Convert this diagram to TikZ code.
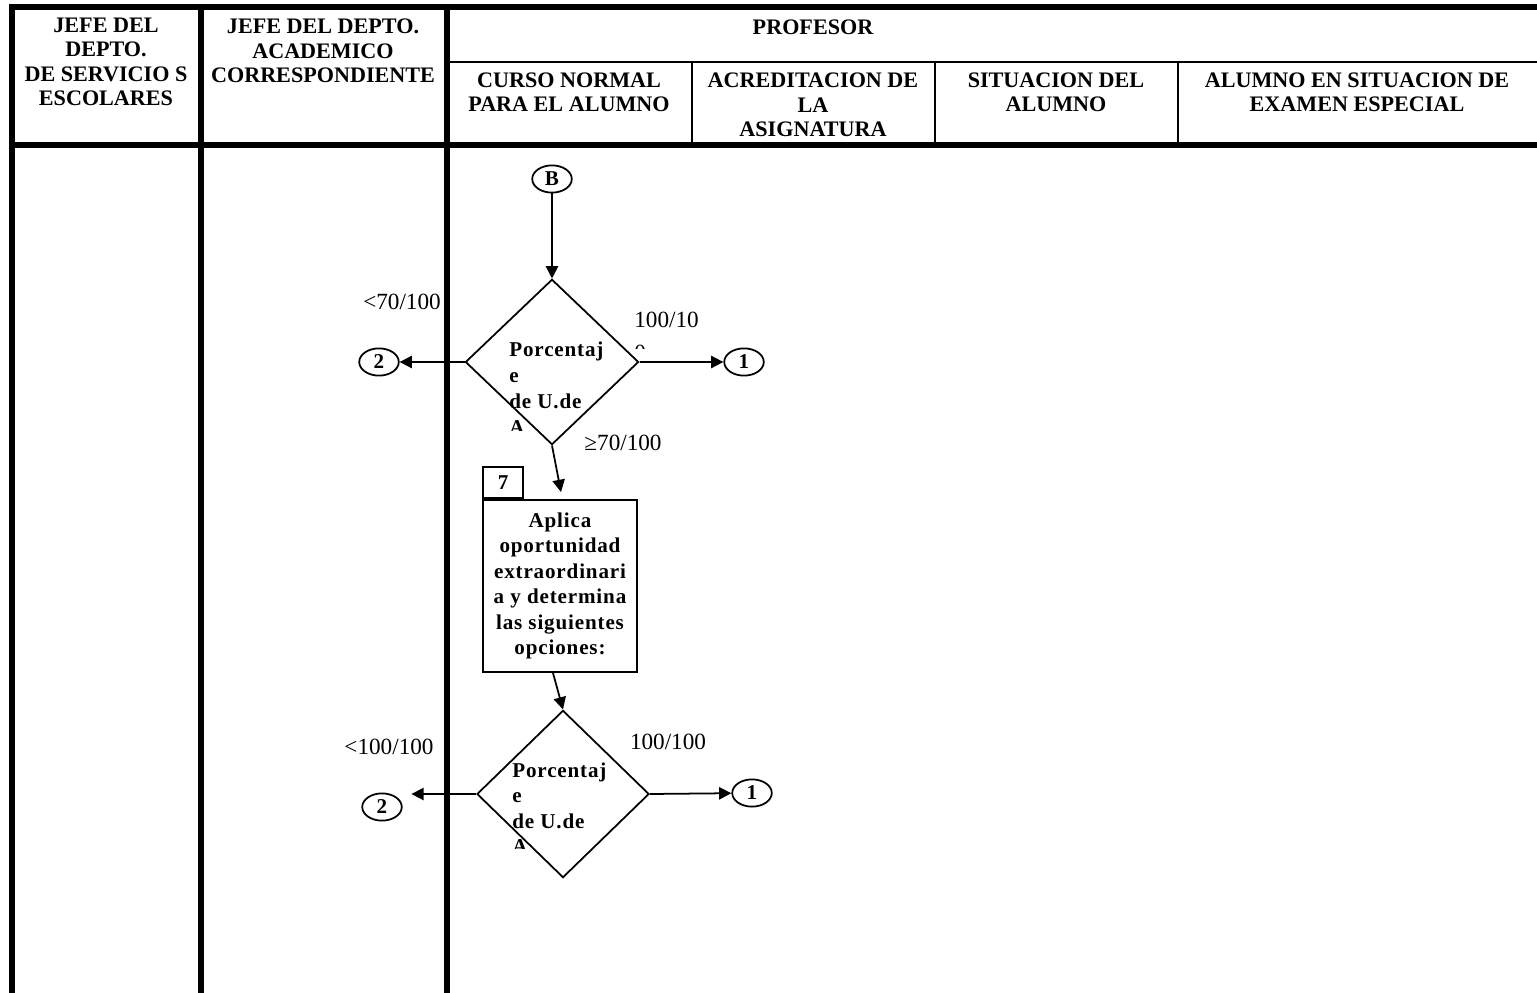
\documentclass[tikz,border=0pt]{standalone}
\usepackage{fontspec}
\setmainfont{Liberation Serif}
\newfontfamily\flowfont[LetterSpace=4]{Liberation Serif}
\usepackage{tikz}
\usetikzlibrary{arrows.meta,shapes.geometric,calc}
\newcommand{\hdrfont}{\fontsize{12.6}{13.9}\selectfont\bfseries}
\newcommand{\lblfont}{\fontsize{13.2}{17}\selectfont}
\newcommand{\boxfont}{\flowfont\fontsize{12}{14.5}\selectfont\bfseries}

\begin{document}
\begin{tikzpicture}[x=0.02cm,y=-0.02cm,
    hdr/.style={font=\hdrfont,align=center,inner sep=0pt},
    lane/.style={line width=3.4pt,line cap=rect},
    sub/.style={line width=1.1pt},
    flow/.style={line width=1pt,-{Triangle[length=7pt,width=7pt]}},
    conn/.style={draw,line width=1pt,ellipse,minimum width=22.5pt,minimum height=15.5pt,inner sep=0pt,font=\fontsize{12}{13}\selectfont\bfseries},
    decision/.style={draw,line width=1pt,diamond,inner sep=0pt},
    actbox/.style={draw,line width=1pt,inner sep=0pt,font=\boxfont},
    lbl/.style={font=\lblfont,inner sep=0pt},
    dtext/.style={font=\boxfont,anchor=base west,inner sep=0pt}]
  \useasboundingbox (0,0) rectangle (1537,993);
  % swimlanes
  \draw[lane] (12,7) -- (1537,7);
  \draw[lane] (12,145) -- (1537,145);
  \foreach \x in {12,201,447} \draw[lane] (\x,7) -- (\x,993);
  \draw[sub] (447,62) -- (1537,62);
  \foreach \x in {692,935,1178} \draw[sub] (\x,62) -- (\x,145);
  \node[hdr] (hServ) at (106,62) {JEFE DEL\\DEPTO.\\DE SERVICIO S\\ESCOLARES};
  \node[hdr] (hAcad) at (323,51) {JEFE DEL DEPTO.\\ACADEMICO\\CORRESPONDIENTE};
  \node[hdr] (hProf) at (813,27) {PROFESOR};
  \node[hdr] (hCurso) at (569,92) {CURSO NORMAL\\PARA EL ALUMNO};
  \node[hdr] (hAcred) at (813,105) {ACREDITACION DE\\LA\\ASIGNATURA};
  \node[hdr] (hSit) at (1056,92) {SITUACION DEL\\ALUMNO};
  \node[hdr] (hExam) at (1357,92) {ALUMNO EN SITUACION DE\\EXAMEN ESPECIAL};
  % flow
  \node[conn] (cB) at (552,179) {B};
  \node[decision,minimum width=98.6pt,minimum height=94.1pt] (d1) at (552,362) {};
  \node[conn] (c2a) at (379,362) {2};
  \node[conn] (c1a) at (744,362) {1};
  \node[actbox,align=center,minimum width=87.3pt,minimum height=98pt] (a7) at (560,586)
    {Aplica\\oportunidad\\extraordinari\\a y determina\\las siguientes\\opciones:};
  \node[actbox,minimum width=22.7pt,minimum height=17.6pt,anchor=south west] (n7) at (a7.north west) {7};
  \node[decision,minimum width=98pt,minimum height=95.2pt] (d2) at (563,794) {};
  \node[conn] (c2b) at (382,807) {2};
  \node[conn] (c1b) at (752,793) {1};
  \draw[flow] (cB) -- (d1.north);
  \draw[flow] (d1.west) -- (c2a);
  \draw[flow] (d1.east) -- (c1a);
  \draw[flow] (d1.south) -- ($(a7.north)+(1,-7)$);
  \draw[flow] ($(a7.south)+(-7,0)$) -- (d2.north);
  \draw[flow,shorten >=5pt] (d2.west) -- (d2.west -| c2b.east);
  \draw[flow] (d2.east) -- (c1b);
  \begin{scope}
    \clip (480,330) rectangle (640,430);
    \foreach \t [count=\i] in {Porcentaj,e,de U.de,A}
      \node[dtext] (d1t\i) at (509,{356+26*(\i-1)}) {\t};
  \end{scope}
  \begin{scope}
    \clip (480,750) rectangle (650,848);
    \foreach \t [count=\i] in {Porcentaj,e,de U.de,A}
      \node[dtext] (d2t\i) at (512,{777+25.5*(\i-1)}) {\t};
  \end{scope}
  % labels
  \node[lbl] (l70) at (402,302) {<70/100};
  \node[lbl,anchor=base west] (l100a) at (634,327) {100/10};
  \begin{scope}
    \clip (600,330) rectangle (720,348);
    \node[lbl,anchor=base west] (l100b) at (634,360) {0};
  \end{scope}
  \node[lbl] (l70b) at (623,443) {≥70/100};
  \node[lbl] (l100c) at (389,747) {<100/100};
  \node[lbl] (l100d) at (668,742) {100/100};
\end{tikzpicture}
\end{document}
